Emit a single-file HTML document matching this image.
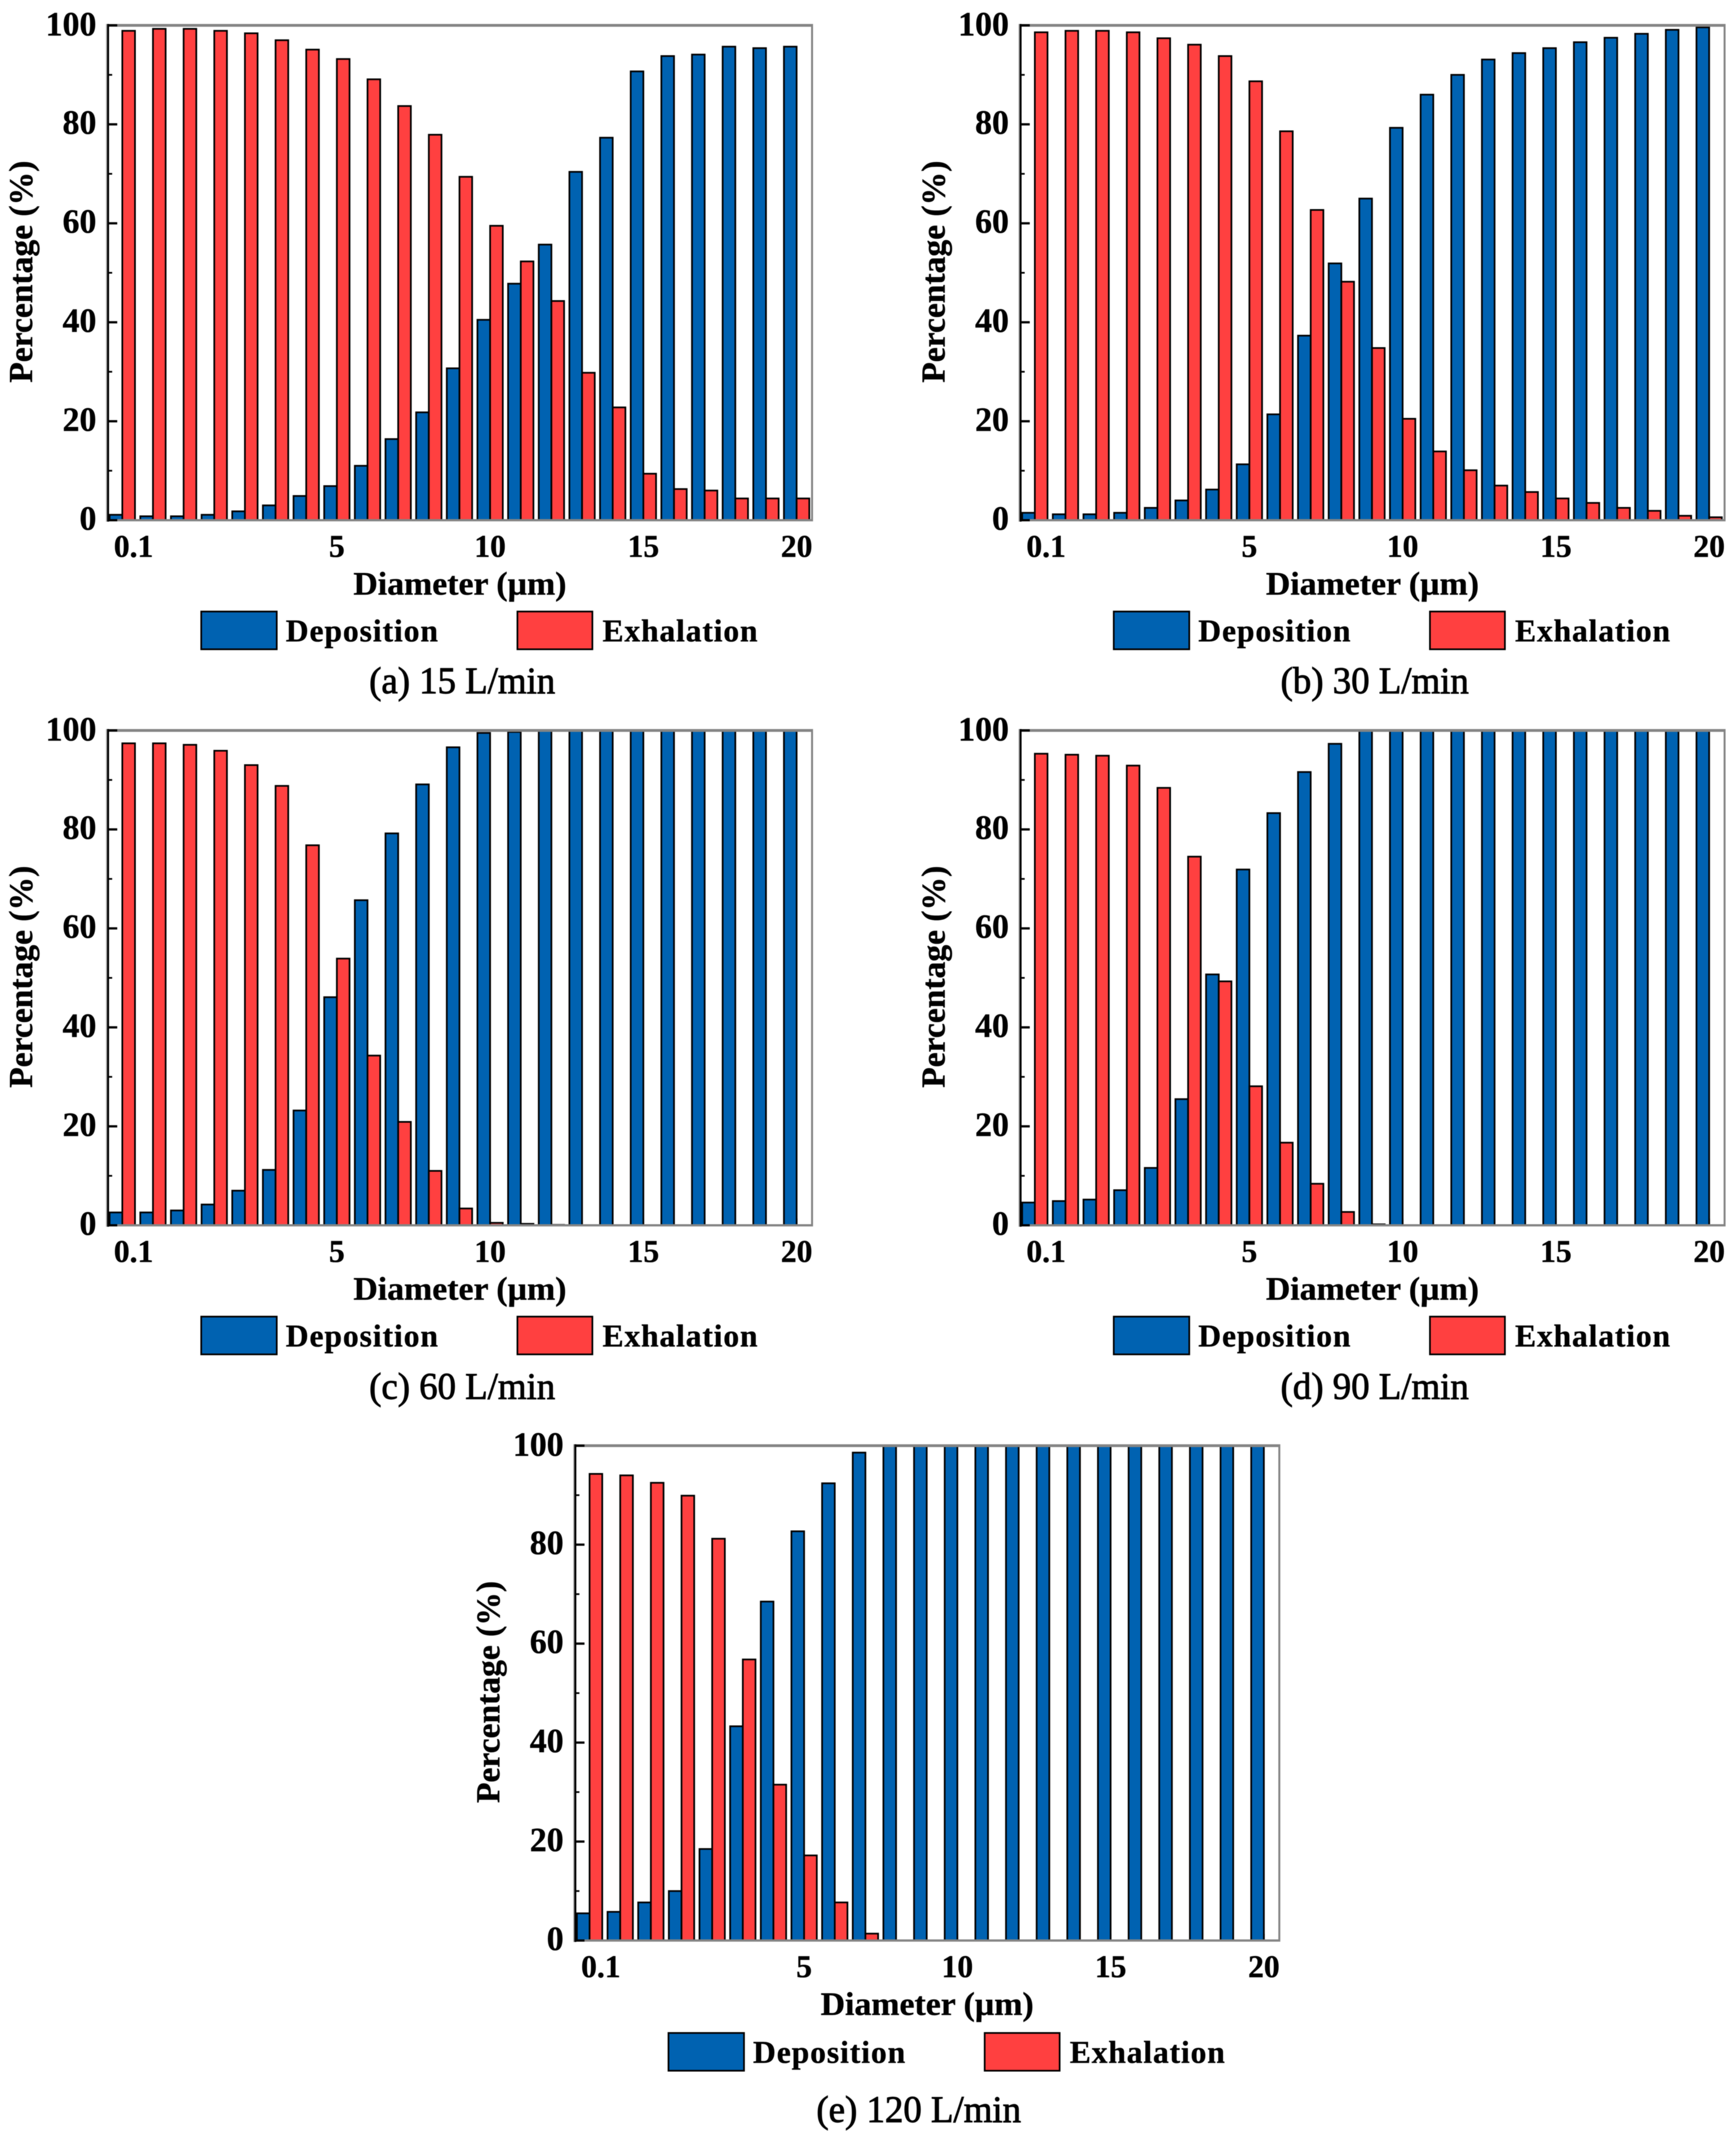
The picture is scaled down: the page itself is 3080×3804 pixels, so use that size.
<!DOCTYPE html>
<html lang="en">
<head>
<meta charset="utf-8">
<title>Deposition and exhalation percentage by particle diameter</title>
<style>
html,body{margin:0;padding:0;background:#fff;}
svg{display:block;font-family:"Liberation Serif","Times New Roman",serif;filter:blur(0.6px);}
text{fill:#000;}
</style>
</head>
<body>
<svg id="figure" xmlns="http://www.w3.org/2000/svg" width="3080" height="3804" viewBox="0 0 3080 3804"></svg>
<script>
const categories = ['0.1','0.2','0.5','1','2','3','4','5','6','7','8','9','10','11','12','13','14','15','16','17','18','19','20'];
const xTickLabels = ['0.1','5','10','15','20'];
const yTickLabels = [0,20,40,60,80,100];
const yMinorTicks = [10,30,50,70,90];

const deposition15 = [1.1,0.8,0.8,1.1,1.8,3,4.9,6.9,11,16.4,21.8,30.7,40.5,47.8,55.7,70.4,77.3,90.7,93.8,94.1,95.7,95.4,95.7];
const exhalation15 = [98.9,99.3,99.3,98.9,98.4,97,95.1,93.2,89.1,83.7,77.9,69.4,59.5,52.3,44.3,29.8,22.8,9.4,6.3,6,4.4,4.4,4.4];

const deposition30 = [1.5,1.2,1.2,1.5,2.5,4,6.2,11.3,21.4,37.3,51.9,65,79.3,86,90,93.1,94.4,95.4,96.6,97.5,98.3,99.1,99.6];
const exhalation30 = [98.6,98.9,98.9,98.6,97.4,96.1,93.8,88.7,78.6,62.7,48.2,34.8,20.5,13.9,10.1,7,5.7,4.4,3.5,2.5,1.9,0.9,0.6];

const deposition60 = [2.6,2.6,3,4.2,7,11.2,23.2,46.1,65.7,79.2,89.1,96.6,99.5,99.7,99.9,100,100,100,100,100,100,100,100];
const exhalation60 = [97.4,97.4,97.1,95.9,93,88.8,76.8,53.9,34.3,20.9,11,3.4,0.5,0.3,0.1,0,0,0,0,0,0,0,0];

const deposition90 = [4.6,4.9,5.2,7.1,11.6,25.5,50.7,71.9,83.3,91.6,97.3,100,100,100,100,100,100,100,100,100,100,100,100];
const exhalation90 = [95.3,95.1,94.9,92.9,88.4,74.5,49.3,28.1,16.7,8.4,2.7,0.2,0,0,0,0,0,0,0,0,0,0,0];

const deposition120 = [5.5,5.8,7.7,10,18.5,43.3,68.5,82.7,92.4,98.6,100,100,100,100,100,100,100,100,100,100,100,100,100];
const exhalation120 = [94.3,94,92.5,89.9,81.2,56.8,31.5,17.2,7.7,1.4,0,0,0,0,0,0,0,0,0,0,0,0,0];

const SVG_NS = 'http://www.w3.org/2000/svg';
const BLUE = '#0062B1';
const RED = '#FF4040';
const GREY = '#858585';
const figure = document.getElementById('figure');

function shape(parent, tag, attrs, text) {
  const node = document.createElementNS(SVG_NS, tag);
  for (const key in attrs) node.setAttribute(key, attrs[key]);
  if (text !== undefined) node.textContent = text;
  parent.appendChild(node);
  return node;
}

function drawPanel(id, flow, deposition, exhalation, dx, dy, captionText, captionX, captionY, captionW, legendDy) {
  const left = 191 + dx, right = 1440.5 + dx, top = 45 + dy, bottom = 923 + dy;
  const xAxis = function (label) { return 217 + dx + categories.indexOf(label) * 54.38; };
  const yAxis = function (value) { return bottom - (value / 100) * (bottom - top); };
  const barW = 22.5;

  const panel = shape(figure, 'g', {});
  
  

  xTickLabels.forEach(function (label) {
    const tick = shape(panel, 'rect', {x: xAxis(label) - 1.5, y: bottom - 12, width: 3, height: 12, fill: '#000'});
    
    
  });

  categories.forEach(function (label, i) {
    const t = xAxis(label);
    const depBar = shape(panel, 'rect', {
      x: t - barW, y: yAxis(deposition[i]), width: barW, height: bottom - yAxis(deposition[i]),
      fill: BLUE, stroke: '#000', 'stroke-width': 3
    });
    
    
    const exhBar = shape(panel, 'rect', {
      x: t, y: yAxis(exhalation[i]), width: barW, height: bottom - yAxis(exhalation[i]),
      fill: RED, stroke: '#000', 'stroke-width': 3
    });
    
    
  });

  const topLine = shape(panel, 'rect', {x: left - 2, y: top - 2.5, width: right - left + 4, height: 5, fill: GREY});
  
  
  const rightLine = shape(panel, 'rect', {x: right - 1.5, y: top - 2.5, width: 3.5, height: bottom - top + 4.5, fill: GREY});
  
  
  const bottomLine = shape(panel, 'rect', {x: left - 2, y: bottom - 2, width: right - left + 4, height: 4, fill: GREY});
  
  
  const leftGrey = shape(panel, 'rect', {x: left - 3, y: top - 2.5, width: 2.5, height: bottom - top + 5, fill: '#aaa'});
  
  
  const leftLine = shape(panel, 'rect', {x: left - 1, y: top - 2.5, width: 3.5, height: bottom - top + 5, fill: '#000'});
  
  

  yTickLabels.forEach(function (value) {
    const y = yAxis(value);
    const tick = shape(panel, 'rect', {x: left, y: y - 2, width: 17, height: 4, fill: '#000'});
    
    
    const label = shape(panel, 'text', {
      x: left - 20, y: y + (value === 100 ? 18 : 17), 'text-anchor': 'end',
      'font-size': 60, 'font-weight': 'bold', stroke: '#000', 'stroke-width': 0.6
    }, String(value));
    
    
  });

  yMinorTicks.forEach(function (value) {
    const minor = shape(panel, 'rect', {x: left, y: yAxis(value) - 1.5, width: 8, height: 3, fill: '#000'});
    
    
  });

  xTickLabels.forEach(function (label) {
    const first = label === '0.1';
    const tickText = shape(panel, 'text', {
      x: first ? left + 11 : xAxis(label), y: bottom + 65,
      'text-anchor': first ? 'start' : 'middle',
      'font-size': 56, 'font-weight': 'bold', stroke: '#000', 'stroke-width': 0.6
    }, label);
    
    
  });

  const xTitle = shape(panel, 'text', {
    x: 816 + dx, y: 1055 + dy, 'text-anchor': 'middle', 'font-size': 58, 'font-weight': 'bold',
    textLength: 378, lengthAdjust: 'spacingAndGlyphs', stroke: '#000', 'stroke-width': 0.6
  }, 'Diameter (\u00B5m)');
  
  

  const yTitle = shape(panel, 'text', {
    x: 0, y: 0, 'text-anchor': 'middle', 'font-size': 59, 'font-weight': 'bold',
    textLength: 394, lengthAdjust: 'spacingAndGlyphs', stroke: '#000', 'stroke-width': 0.6,
    transform: 'translate(' + (57 + dx) + ' ' + (482 + dy) + ') rotate(-90)'
  }, 'Percentage (%)');
  
  

  const legendTop = 1085 + dy + legendDy;
  const depSwatch = shape(panel, 'rect', {
    x: 357 + dx, y: legendTop, width: 134, height: 67, fill: BLUE, stroke: '#000', 'stroke-width': 3
  });
  
  
  const depLabel = shape(panel, 'text', {
    x: 507 + dx, y: legendTop + 53, 'font-size': 56, 'font-weight': 'bold',
    textLength: 270, lengthAdjust: 'spacing', stroke: '#000', 'stroke-width': 0.6
  }, 'Deposition');
  
  
  const exhSwatch = shape(panel, 'rect', {
    x: 918 + dx, y: legendTop, width: 133, height: 67, fill: RED, stroke: '#000', 'stroke-width': 3
  });
  
  
  const exhLabel = shape(panel, 'text', {
    x: 1069 + dx, y: legendTop + 53, 'font-size': 56, 'font-weight': 'bold',
    textLength: 275, lengthAdjust: 'spacing', stroke: '#000', 'stroke-width': 0.6
  }, 'Exhalation');
  
  

  const caption = shape(panel, 'text', {
    x: captionX, y: captionY, 'text-anchor': 'middle', 'font-size': 67,
    textLength: captionW, lengthAdjust: 'spacingAndGlyphs', stroke: '#000', 'stroke-width': 1.4
  }, captionText);
  
  
}

drawPanel('a', 15, deposition15, exhalation15, 0, 0, '(a) 15 L/min', 820, 1230, 330, 0);
drawPanel('b', 30, deposition30, exhalation30, 1619, 0, '(b) 30 L/min', 2439, 1230, 334, 0);
drawPanel('c', 60, deposition60, exhalation60, 0, 1251, '(c) 60 L/min', 820, 2482, 330, 0);
drawPanel('d', 90, deposition90, exhalation90, 1619, 1251, '(d) 90 L/min', 2439, 2482, 334, 0);
drawPanel('e', 120, deposition120, exhalation120, 829, 2520, '(e) 120 L/min', 1630, 3765, 363, 2);
</script>
</body>
</html>
